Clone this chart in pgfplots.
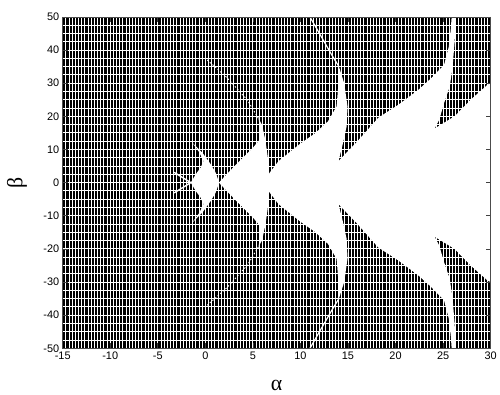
\documentclass[border=0pt]{standalone}
\usepackage{pgfplots}
\pgfplotsset{compat=1.18}
\usepackage{fontspec}
\setmainfont{Liberation Sans}
\newfontfamily\greekfont{Liberation Serif}
\pgfdeclarelayer{white regions}
\pgfplotsset{
  layers/my layer set/.define layer set={
    axis background,axis grid,white regions,axis ticks,axis lines,axis tick labels,main,axis descriptions,axis foreground
  }{/pgfplots/layers/standard},
}
\begin{document}
\begin{tikzpicture}
\path (0,0) rectangle (500bp,396bp);
\begin{axis}[
  at={(63bp,46bp)}, anchor=south west,
  width=430bp, height=333bp, scale only axis,
  set layers=my layer set,
  xmin=-15, xmax=30, ymin=-50, ymax=50,
  xtick={-15,-10,...,30}, ytick={-50,-40,...,50},
  minor x tick num=14, minor y tick num=3,
  grid=both,
  major grid style={white, line width=0.9bp},
  minor grid style={white, line width=0.9bp},
  axis background/.style={fill=black},
  tick align=inside,
  major tick length=5bp, minor tick length=0pt,
  tick style={black!75, line width=0.6bp},
  axis line style={black!70, line width=0.8bp},
  ticklabel style={font=\fontsize{11}{13}\selectfont},
  /pgf/number format/assume math mode=true,
  xlabel={\greekfont α}, ylabel={\greekfont β},
  xlabel style={at={(axis description cs:0.5,-0.111)}, anchor=center, font=\fontsize{22}{24}\selectfont},
  ylabel style={at={(axis description cs:-0.107,0.5)}, anchor=center, font=\fontsize{22}{24}\selectfont},
]
% main white region
\addplot[on layer=white regions, fill=white, draw=none] coordinates {
(1.43,0) (2.5,3.3) (3.8,7.1) (5.0,10.5) (5.72,13.0)
(5.75,16) (5.6,19.3) (5.95,17.5) (6.3,13) (6.55,8) (6.66,2.6)
(7.7,6.5) (9,9.5) (10,11.8) (11.5,14.8) (12.9,18.5) (13.8,23.0)
(14.0,30) (14.05,35) (14.6,30) (14.95,23) (14.86,17) (14.4,11) (14.0,6.5)
(16,12.5) (18.2,19.6) (20.3,23.5) (22.4,28) (23.75,31.5) (25.1,35.5) (25.6,41) (25.8,46) (25.9,50)
(26.35,50) (26.2,42) (26.0,35) (25.7,29) (25.1,24) (24.6,19) (24.1,16.3)
(26.2,20) (27.9,25) (29.7,29.6) (30,30)
(30,-30)
(29.7,-29.6) (27.9,-25) (26.2,-20) (24.1,-16.3)
(24.6,-19) (25.1,-24) (25.7,-29) (26.0,-35) (26.2,-42) (26.35,-50)
(25.9,-50) (25.8,-46) (25.6,-41) (25.1,-35.5) (23.75,-31.5) (22.4,-28) (20.3,-23.5) (18.2,-19.6) (16,-12.5)
(14.0,-6.5) (14.4,-11) (14.86,-17) (14.95,-23) (14.6,-30) (14.05,-35) (14.0,-30)
(13.8,-23.0) (12.9,-18.5) (11.5,-14.8) (10,-11.8) (9,-9.5) (7.7,-6.5)
(6.66,-2.6) (6.55,-8) (6.3,-13) (5.95,-17.5) (5.6,-19.3) (5.75,-16)
(5.72,-13.0) (5.0,-10.5) (3.8,-7.1) (2.5,-3.3) (1.43,0)
};
% crescent A
\addplot[on layer=white regions, fill=white, draw=none] coordinates {
(-1.53,0) (-1.0,2.55) (-0.49,4.56) (-0.2,6.5) (-0.66,9.25) (-1.36,12.0)
(-0.32,9.07) (0.56,5.56) (1.08,3.06) (1.43,0.2)
(1.43,-0.2) (1.08,-3.06) (0.56,-5.56) (-0.32,-9.07) (-1.36,-12.0)
(-0.66,-9.25) (-0.2,-6.5) (-0.49,-4.56) (-1.0,-2.55) (-1.53,0)
};
% thin arms
\addplot[on layer=white regions, white, line width=1.4bp] coordinates {(-3.28,3.1) (-1.53,0) (-3.28,-3.1)};
% thin horn 1
\addplot[on layer=white regions, white, line width=0.9bp, dash pattern=on 1.5bp off 2bp] coordinates {(0.2,37) (2.13,32.1) (4.4,25) (5.6,19.3)};
\addplot[on layer=white regions, white, line width=0.9bp, dash pattern=on 1.5bp off 2bp] coordinates {(0.2,-37) (2.13,-32.1) (4.4,-25) (5.6,-19.3)};
% thin horn 2
\addplot[on layer=white regions, white, line width=1.2bp] coordinates {(11.0,50) (12.2,44) (13.3,38.5) (14.05,35)};
\addplot[on layer=white regions, white, line width=1.2bp] coordinates {(11.0,-50) (12.2,-44) (13.3,-38.5) (14.05,-35)};
\end{axis}
\end{tikzpicture}
\end{document}
